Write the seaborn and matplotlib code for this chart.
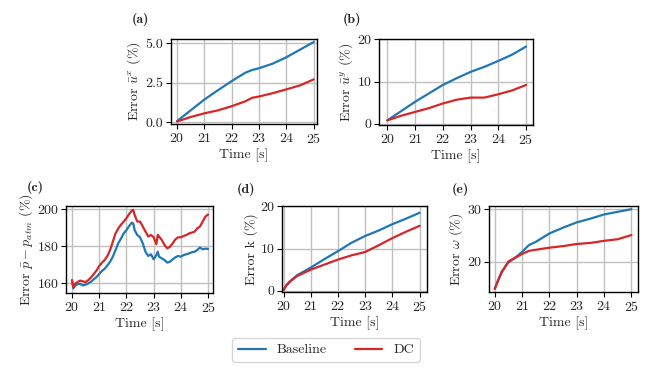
import numpy as np
import pandas as pd
import matplotlib
matplotlib.use('Agg')
import matplotlib.pyplot as plt
import seaborn as sns

# ---- data ----
t_a = [20.0, 20.5, 21.0, 21.5, 22.0, 22.5, 22.75, 23.0, 23.5, 24.0, 24.5, 25.0]
a_base = [0.08, 0.76, 1.44, 2.03, 2.60, 3.13, 3.30, 3.41, 3.70, 4.10, 4.58, 5.06]
a_dc = [0.06, 0.34, 0.57, 0.76, 1.02, 1.33, 1.55, 1.63, 1.84, 2.08, 2.33, 2.71]

t_b = [20.0, 20.5, 21.0, 21.5, 22.0, 22.5, 23.0, 23.5, 24.0, 24.5, 25.0]
b_base = [0.8, 3.0, 5.2, 7.2, 9.2, 10.8, 12.3, 13.5, 14.9, 16.4, 18.3]
b_dc = [0.8, 1.9, 2.8, 3.7, 4.8, 5.7, 6.2, 6.2, 7.0, 7.9, 9.2]

t_c = [20.0, 20.05, 20.1, 20.2, 20.3, 20.4, 20.5, 20.6, 20.7, 20.8, 20.9,
       21.0, 21.1, 21.2, 21.3, 21.4, 21.5, 21.6, 21.7, 21.8, 21.9,
       22.0, 22.1, 22.2, 22.25, 22.3, 22.4, 22.5, 22.6, 22.7, 22.8, 22.9,
       23.0, 23.1, 23.15, 23.2, 23.3, 23.4, 23.5, 23.6, 23.7, 23.8, 23.9,
       24.0, 24.1, 24.2, 24.3, 24.4, 24.5, 24.6, 24.7, 24.8, 24.9, 25.0]
c_base = [161.6, 157.1, 158.4, 159.3, 159.5, 158.7, 159.1, 159.8, 160.7, 162.0, 163.2,
          164.9, 166.5, 167.7, 169.5, 171.5, 174.2, 177.8, 181.5, 184.0, 186.8,
          188.6, 190.8, 192.6, 192.2, 188.6, 185.9, 184.7, 181.4, 176.9, 174.6, 175.5,
          172.8, 175.1, 176.9, 174.2, 173.3, 172.4, 171.0, 171.5, 172.8, 173.9, 174.6,
          174.2, 175.1, 175.5, 176.0, 176.6, 176.9, 177.8, 179.2, 178.2, 178.6, 178.4]
c_dc = [161.3, 157.7, 159.5, 160.5, 161.3, 160.9, 160.5, 161.6, 163.0, 164.9, 166.7,
        169.2, 171.0, 172.4, 174.6, 177.8, 182.3, 186.8, 189.5, 191.5, 193.2,
        195.0, 197.3, 199.1, 199.5, 196.8, 193.2, 193.2, 190.5, 187.8, 185.1, 186.0,
        184.7, 181.0, 186.0, 185.1, 183.2, 180.5, 178.7, 179.6, 181.4, 183.6, 184.7,
        184.7, 185.4, 185.9, 186.8, 187.2, 187.7, 189.5, 190.5, 193.2, 195.9, 197.0]

t_d = [20.0, 20.1, 20.25, 20.5, 21.0, 21.5, 22.0, 22.5, 23.0, 23.5, 24.0, 24.5, 25.0]
d_base = [0.2, 1.3, 2.3, 3.7, 5.5, 7.5, 9.4, 11.4, 13.0, 14.3, 15.8, 17.1, 18.5]
d_dc = [0.2, 1.3, 2.3, 3.5, 5.0, 6.2, 7.4, 8.4, 9.2, 10.8, 12.5, 14.0, 15.4]

t_e = [20.0, 20.1, 20.25, 20.5, 20.75, 21.0, 21.25, 21.5, 22.0, 22.5, 23.0, 23.5, 24.0, 24.5, 25.0]
e_base = [14.9, 16.2, 18.1, 19.9, 20.8, 21.9, 23.2, 23.8, 25.4, 26.5, 27.5, 28.2, 29.0, 29.5, 30.0]
e_dc = [14.9, 16.2, 18.0, 20.1, 20.8, 21.5, 22.1, 22.3, 22.7, 23.0, 23.4, 23.6, 24.0, 24.3, 25.1]

methods = ['Baseline', 'DC']
palette = {'Baseline': '#1f77b4', 'DC': '#d62728'}


def long_df(t, base, dc):
    return pd.concat([
        pd.DataFrame({'Time': t, 'Error': base, 'Method': 'Baseline'}),
        pd.DataFrame({'Time': t, 'Error': dc, 'Method': 'DC'}),
    ], ignore_index=True)


sns.set_style('ticks')
plt.rcParams['font.family'] = ['cmr10', 'DejaVu Serif']
plt.rcParams['mathtext.fontset'] = 'cm'
plt.rcParams['axes.formatter.use_mathtext'] = True
plt.rcParams['axes.unicode_minus'] = False
plt.rcParams['font.size'] = 10

W, H = 653, 377
fig = plt.figure(figsize=(W / 100, H / 100), dpi=100)


def add_ax(l, r, t, b):
    return fig.add_axes([l / W, 1 - b / H, (r - l) / W, (b - t) / H])


panels = [
    dict(box=(171, 317, 39, 124), t=t_a, base=a_base, dc=a_dc,
         ylabel=r'Error $\bar{u}^x$ (%)', ylim=(-0.1, 5.25), yticks=[0, 2.5, 5.0],
         yfmt='{:.1f}', xlim=(19.78, 25.12), tag='(a)', tagpos=(132, 20)),
    dict(box=(379, 533, 39, 125), t=t_b, base=b_base, dc=b_dc,
         ylabel=r'Error $\bar{u}^y$ (%)', ylim=(-0.3, 20.1), yticks=[0, 10, 20],
         yfmt='{:.0f}', xlim=(19.7, 25.25), tag='(b)', tagpos=(343, 20)),
    dict(box=(66, 213, 206, 293), t=t_c, base=c_base, dc=c_dc,
         ylabel=r'Error $\bar{p} - p_{atm}$ (%)', ylim=(154.6, 201.6), yticks=[160, 180, 200],
         yfmt='{:.0f}', xlim=(19.78, 25.18), tag='(c)', tagpos=(27, 187)),
    dict(box=(282, 427, 206, 292), t=t_d, base=d_base, dc=d_dc,
         ylabel='Error k (%)', ylim=(-0.3, 20.1), yticks=[0, 10, 20],
         yfmt='{:.0f}', xlim=(19.94, 25.27), tag='(d)', tagpos=(237, 189)),
    dict(box=(489, 638, 206, 292), t=t_e, base=e_base, dc=e_dc,
         ylabel=r'Error $\omega$ (%)', ylim=(14.3, 30.6), yticks=[20, 30],
         yfmt='{:.0f}', xlim=(19.79, 25.24), tag='(e)', tagpos=(452, 189)),
]

for p in panels:
    ax = add_ax(*p['box'])
    df = long_df(p['t'], p['base'], p['dc'])
    sns.lineplot(data=df, x='Time', y='Error', hue='Method', hue_order=methods,
                 palette=palette, linewidth=1.6, ax=ax, legend=False)
    ax.set_xlim(*p['xlim'])
    ax.set_ylim(*p['ylim'])
    ax.set_xticks([20, 21, 22, 23, 24, 25])
    ax.set_yticks(p['yticks'])
    ax.set_yticklabels([p['yfmt'].format(v) for v in p['yticks']])
    ax.grid(True, color='#c0c0c0', linewidth=1.0)
    ax.set_axisbelow(True)
    for s in ax.spines.values():
        s.set_color('black')
        s.set_linewidth(1.0)
    ax.tick_params(length=3.5, width=0.8, color='black', labelsize=10, pad=2)
    ax.set_xlabel('Time [s]', fontsize=10, labelpad=2)
    ax.set_ylabel(p['ylabel'], fontsize=10, labelpad=2)
    fig.text(p['tagpos'][0] / W, 1 - p['tagpos'][1] / H, p['tag'],
             family=['cmb10', 'DejaVu Serif'], fontsize=10, ha='left', va='center')

handles = [plt.Line2D([], [], color=palette[m], linewidth=1.6) for m in methods]
fig.legend(handles, methods, loc='center', bbox_to_anchor=(326 / W, 1 - 350 / H),
           ncol=2, frameon=True, fontsize=10, edgecolor='#cccccc', fancybox=True)

fig.savefig('out.png', dpi=100)
